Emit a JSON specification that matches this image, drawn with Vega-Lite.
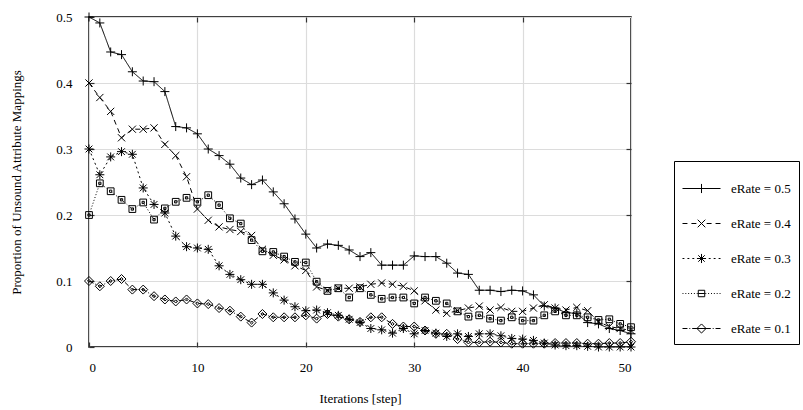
{
  "$schema": "https://vega.github.io/schema/vega-lite/v6.json",
  "width": 542,
  "height": 330,
  "autosize": "none",
  "padding": {"left": 89, "top": 17, "right": 172, "bottom": 63},
  "background": "white",
  "config": {
    "font": "Liberation Serif",
    "view": {"stroke": "black", "strokeWidth": 1.5},
    "axis": {
      "labelFont": "Liberation Serif",
      "titleFont": "Liberation Serif",
      "labelFontSize": 13,
      "titleFontSize": 13,
      "titleFontWeight": "normal",
      "labelColor": "black",
      "titleColor": "black",
      "gridColor": "#dcdcdc",
      "gridWidth": 1.2,
      "domain": false,
      "tickColor": "#333333",
      "tickSize": -5,
      "tickWidth": 1.2
    }
  },
  "data": {
    "values": [
      {"series": "eRate = 0.5", "step": 0, "value": 0.5},
      {"series": "eRate = 0.5", "step": 1, "value": 0.491},
      {"series": "eRate = 0.5", "step": 2, "value": 0.447},
      {"series": "eRate = 0.5", "step": 3, "value": 0.443},
      {"series": "eRate = 0.5", "step": 4, "value": 0.417},
      {"series": "eRate = 0.5", "step": 5, "value": 0.403},
      {"series": "eRate = 0.5", "step": 6, "value": 0.402},
      {"series": "eRate = 0.5", "step": 7, "value": 0.387},
      {"series": "eRate = 0.5", "step": 8, "value": 0.334},
      {"series": "eRate = 0.5", "step": 9, "value": 0.332},
      {"series": "eRate = 0.5", "step": 10, "value": 0.323},
      {"series": "eRate = 0.5", "step": 11, "value": 0.3},
      {"series": "eRate = 0.5", "step": 12, "value": 0.29},
      {"series": "eRate = 0.5", "step": 13, "value": 0.277},
      {"series": "eRate = 0.5", "step": 14, "value": 0.256},
      {"series": "eRate = 0.5", "step": 15, "value": 0.246},
      {"series": "eRate = 0.5", "step": 16, "value": 0.253},
      {"series": "eRate = 0.5", "step": 17, "value": 0.235},
      {"series": "eRate = 0.5", "step": 18, "value": 0.217},
      {"series": "eRate = 0.5", "step": 19, "value": 0.194},
      {"series": "eRate = 0.5", "step": 20, "value": 0.171},
      {"series": "eRate = 0.5", "step": 21, "value": 0.15},
      {"series": "eRate = 0.5", "step": 22, "value": 0.156},
      {"series": "eRate = 0.5", "step": 23, "value": 0.154},
      {"series": "eRate = 0.5", "step": 24, "value": 0.147},
      {"series": "eRate = 0.5", "step": 25, "value": 0.137},
      {"series": "eRate = 0.5", "step": 26, "value": 0.143},
      {"series": "eRate = 0.5", "step": 27, "value": 0.124},
      {"series": "eRate = 0.5", "step": 28, "value": 0.124},
      {"series": "eRate = 0.5", "step": 29, "value": 0.124},
      {"series": "eRate = 0.5", "step": 30, "value": 0.138},
      {"series": "eRate = 0.5", "step": 31, "value": 0.137},
      {"series": "eRate = 0.5", "step": 32, "value": 0.137},
      {"series": "eRate = 0.5", "step": 33, "value": 0.127},
      {"series": "eRate = 0.5", "step": 34, "value": 0.112},
      {"series": "eRate = 0.5", "step": 35, "value": 0.11},
      {"series": "eRate = 0.5", "step": 36, "value": 0.086},
      {"series": "eRate = 0.5", "step": 37, "value": 0.086},
      {"series": "eRate = 0.5", "step": 38, "value": 0.084},
      {"series": "eRate = 0.5", "step": 39, "value": 0.086},
      {"series": "eRate = 0.5", "step": 40, "value": 0.085},
      {"series": "eRate = 0.5", "step": 41, "value": 0.079},
      {"series": "eRate = 0.5", "step": 42, "value": 0.062},
      {"series": "eRate = 0.5", "step": 43, "value": 0.059},
      {"series": "eRate = 0.5", "step": 44, "value": 0.052},
      {"series": "eRate = 0.5", "step": 45, "value": 0.051},
      {"series": "eRate = 0.5", "step": 46, "value": 0.037},
      {"series": "eRate = 0.5", "step": 47, "value": 0.035},
      {"series": "eRate = 0.5", "step": 48, "value": 0.028},
      {"series": "eRate = 0.5", "step": 49, "value": 0.025},
      {"series": "eRate = 0.5", "step": 50, "value": 0.02},

      {"series": "eRate = 0.4", "step": 0, "value": 0.4},
      {"series": "eRate = 0.4", "step": 1, "value": 0.378},
      {"series": "eRate = 0.4", "step": 2, "value": 0.357},
      {"series": "eRate = 0.4", "step": 3, "value": 0.317},
      {"series": "eRate = 0.4", "step": 4, "value": 0.33},
      {"series": "eRate = 0.4", "step": 5, "value": 0.33},
      {"series": "eRate = 0.4", "step": 6, "value": 0.332},
      {"series": "eRate = 0.4", "step": 7, "value": 0.307},
      {"series": "eRate = 0.4", "step": 8, "value": 0.29},
      {"series": "eRate = 0.4", "step": 9, "value": 0.258},
      {"series": "eRate = 0.4", "step": 10, "value": 0.209},
      {"series": "eRate = 0.4", "step": 11, "value": 0.192},
      {"series": "eRate = 0.4", "step": 12, "value": 0.182},
      {"series": "eRate = 0.4", "step": 13, "value": 0.178},
      {"series": "eRate = 0.4", "step": 14, "value": 0.175},
      {"series": "eRate = 0.4", "step": 15, "value": 0.169},
      {"series": "eRate = 0.4", "step": 16, "value": 0.148},
      {"series": "eRate = 0.4", "step": 17, "value": 0.139},
      {"series": "eRate = 0.4", "step": 18, "value": 0.132},
      {"series": "eRate = 0.4", "step": 19, "value": 0.123},
      {"series": "eRate = 0.4", "step": 20, "value": 0.116},
      {"series": "eRate = 0.4", "step": 21, "value": 0.091},
      {"series": "eRate = 0.4", "step": 22, "value": 0.086},
      {"series": "eRate = 0.4", "step": 23, "value": 0.089},
      {"series": "eRate = 0.4", "step": 24, "value": 0.089},
      {"series": "eRate = 0.4", "step": 25, "value": 0.091},
      {"series": "eRate = 0.4", "step": 26, "value": 0.095},
      {"series": "eRate = 0.4", "step": 27, "value": 0.097},
      {"series": "eRate = 0.4", "step": 28, "value": 0.095},
      {"series": "eRate = 0.4", "step": 29, "value": 0.092},
      {"series": "eRate = 0.4", "step": 30, "value": 0.085},
      {"series": "eRate = 0.4", "step": 31, "value": 0.07},
      {"series": "eRate = 0.4", "step": 32, "value": 0.056},
      {"series": "eRate = 0.4", "step": 33, "value": 0.051},
      {"series": "eRate = 0.4", "step": 34, "value": 0.055},
      {"series": "eRate = 0.4", "step": 35, "value": 0.059},
      {"series": "eRate = 0.4", "step": 36, "value": 0.062},
      {"series": "eRate = 0.4", "step": 37, "value": 0.056},
      {"series": "eRate = 0.4", "step": 38, "value": 0.06},
      {"series": "eRate = 0.4", "step": 39, "value": 0.054},
      {"series": "eRate = 0.4", "step": 40, "value": 0.054},
      {"series": "eRate = 0.4", "step": 41, "value": 0.059},
      {"series": "eRate = 0.4", "step": 42, "value": 0.064},
      {"series": "eRate = 0.4", "step": 43, "value": 0.059},
      {"series": "eRate = 0.4", "step": 44, "value": 0.056},
      {"series": "eRate = 0.4", "step": 45, "value": 0.06},
      {"series": "eRate = 0.4", "step": 46, "value": 0.055},
      {"series": "eRate = 0.4", "step": 47, "value": 0.038},
      {"series": "eRate = 0.4", "step": 48, "value": 0.031},
      {"series": "eRate = 0.4", "step": 49, "value": 0.028},
      {"series": "eRate = 0.4", "step": 50, "value": 0.025},

      {"series": "eRate = 0.3", "step": 0, "value": 0.3},
      {"series": "eRate = 0.3", "step": 1, "value": 0.261},
      {"series": "eRate = 0.3", "step": 2, "value": 0.288},
      {"series": "eRate = 0.3", "step": 3, "value": 0.296},
      {"series": "eRate = 0.3", "step": 4, "value": 0.292},
      {"series": "eRate = 0.3", "step": 5, "value": 0.241},
      {"series": "eRate = 0.3", "step": 6, "value": 0.216},
      {"series": "eRate = 0.3", "step": 7, "value": 0.203},
      {"series": "eRate = 0.3", "step": 8, "value": 0.168},
      {"series": "eRate = 0.3", "step": 9, "value": 0.152},
      {"series": "eRate = 0.3", "step": 10, "value": 0.15},
      {"series": "eRate = 0.3", "step": 11, "value": 0.148},
      {"series": "eRate = 0.3", "step": 12, "value": 0.123},
      {"series": "eRate = 0.3", "step": 13, "value": 0.11},
      {"series": "eRate = 0.3", "step": 14, "value": 0.102},
      {"series": "eRate = 0.3", "step": 15, "value": 0.095},
      {"series": "eRate = 0.3", "step": 16, "value": 0.095},
      {"series": "eRate = 0.3", "step": 17, "value": 0.082},
      {"series": "eRate = 0.3", "step": 18, "value": 0.071},
      {"series": "eRate = 0.3", "step": 19, "value": 0.061},
      {"series": "eRate = 0.3", "step": 20, "value": 0.055},
      {"series": "eRate = 0.3", "step": 21, "value": 0.056},
      {"series": "eRate = 0.3", "step": 22, "value": 0.052},
      {"series": "eRate = 0.3", "step": 23, "value": 0.048},
      {"series": "eRate = 0.3", "step": 24, "value": 0.042},
      {"series": "eRate = 0.3", "step": 25, "value": 0.037},
      {"series": "eRate = 0.3", "step": 26, "value": 0.028},
      {"series": "eRate = 0.3", "step": 27, "value": 0.026},
      {"series": "eRate = 0.3", "step": 28, "value": 0.021},
      {"series": "eRate = 0.3", "step": 29, "value": 0.028},
      {"series": "eRate = 0.3", "step": 30, "value": 0.02},
      {"series": "eRate = 0.3", "step": 31, "value": 0.025},
      {"series": "eRate = 0.3", "step": 32, "value": 0.021},
      {"series": "eRate = 0.3", "step": 33, "value": 0.016},
      {"series": "eRate = 0.3", "step": 34, "value": 0.02},
      {"series": "eRate = 0.3", "step": 35, "value": 0.016},
      {"series": "eRate = 0.3", "step": 36, "value": 0.02},
      {"series": "eRate = 0.3", "step": 37, "value": 0.02},
      {"series": "eRate = 0.3", "step": 38, "value": 0.017},
      {"series": "eRate = 0.3", "step": 39, "value": 0.013},
      {"series": "eRate = 0.3", "step": 40, "value": 0.012},
      {"series": "eRate = 0.3", "step": 41, "value": 0.01},
      {"series": "eRate = 0.3", "step": 42, "value": 0.006},
      {"series": "eRate = 0.3", "step": 43, "value": 0.003},
      {"series": "eRate = 0.3", "step": 44, "value": 0.002},
      {"series": "eRate = 0.3", "step": 45, "value": 0.002},
      {"series": "eRate = 0.3", "step": 46, "value": 0.001},
      {"series": "eRate = 0.3", "step": 47, "value": 0.0},
      {"series": "eRate = 0.3", "step": 48, "value": 0.0},
      {"series": "eRate = 0.3", "step": 49, "value": 0.0},
      {"series": "eRate = 0.3", "step": 50, "value": 0.0},

      {"series": "eRate = 0.2", "step": 0, "value": 0.2},
      {"series": "eRate = 0.2", "step": 1, "value": 0.248},
      {"series": "eRate = 0.2", "step": 2, "value": 0.236},
      {"series": "eRate = 0.2", "step": 3, "value": 0.223},
      {"series": "eRate = 0.2", "step": 4, "value": 0.209},
      {"series": "eRate = 0.2", "step": 5, "value": 0.219},
      {"series": "eRate = 0.2", "step": 6, "value": 0.193},
      {"series": "eRate = 0.2", "step": 7, "value": 0.21},
      {"series": "eRate = 0.2", "step": 8, "value": 0.22},
      {"series": "eRate = 0.2", "step": 9, "value": 0.226},
      {"series": "eRate = 0.2", "step": 10, "value": 0.22},
      {"series": "eRate = 0.2", "step": 11, "value": 0.23},
      {"series": "eRate = 0.2", "step": 12, "value": 0.215},
      {"series": "eRate = 0.2", "step": 13, "value": 0.195},
      {"series": "eRate = 0.2", "step": 14, "value": 0.187},
      {"series": "eRate = 0.2", "step": 15, "value": 0.162},
      {"series": "eRate = 0.2", "step": 16, "value": 0.145},
      {"series": "eRate = 0.2", "step": 17, "value": 0.144},
      {"series": "eRate = 0.2", "step": 18, "value": 0.137},
      {"series": "eRate = 0.2", "step": 19, "value": 0.129},
      {"series": "eRate = 0.2", "step": 20, "value": 0.128},
      {"series": "eRate = 0.2", "step": 21, "value": 0.099},
      {"series": "eRate = 0.2", "step": 22, "value": 0.085},
      {"series": "eRate = 0.2", "step": 23, "value": 0.089},
      {"series": "eRate = 0.2", "step": 24, "value": 0.075},
      {"series": "eRate = 0.2", "step": 25, "value": 0.089},
      {"series": "eRate = 0.2", "step": 26, "value": 0.079},
      {"series": "eRate = 0.2", "step": 27, "value": 0.073},
      {"series": "eRate = 0.2", "step": 28, "value": 0.075},
      {"series": "eRate = 0.2", "step": 29, "value": 0.075},
      {"series": "eRate = 0.2", "step": 30, "value": 0.066},
      {"series": "eRate = 0.2", "step": 31, "value": 0.075},
      {"series": "eRate = 0.2", "step": 32, "value": 0.07},
      {"series": "eRate = 0.2", "step": 33, "value": 0.066},
      {"series": "eRate = 0.2", "step": 34, "value": 0.054},
      {"series": "eRate = 0.2", "step": 35, "value": 0.046},
      {"series": "eRate = 0.2", "step": 36, "value": 0.048},
      {"series": "eRate = 0.2", "step": 37, "value": 0.043},
      {"series": "eRate = 0.2", "step": 38, "value": 0.04},
      {"series": "eRate = 0.2", "step": 39, "value": 0.045},
      {"series": "eRate = 0.2", "step": 40, "value": 0.04},
      {"series": "eRate = 0.2", "step": 41, "value": 0.04},
      {"series": "eRate = 0.2", "step": 42, "value": 0.048},
      {"series": "eRate = 0.2", "step": 43, "value": 0.054},
      {"series": "eRate = 0.2", "step": 44, "value": 0.048},
      {"series": "eRate = 0.2", "step": 45, "value": 0.048},
      {"series": "eRate = 0.2", "step": 46, "value": 0.045},
      {"series": "eRate = 0.2", "step": 47, "value": 0.041},
      {"series": "eRate = 0.2", "step": 48, "value": 0.042},
      {"series": "eRate = 0.2", "step": 49, "value": 0.035},
      {"series": "eRate = 0.2", "step": 50, "value": 0.03},

      {"series": "eRate = 0.1", "step": 0, "value": 0.1},
      {"series": "eRate = 0.1", "step": 1, "value": 0.092},
      {"series": "eRate = 0.1", "step": 2, "value": 0.1},
      {"series": "eRate = 0.1", "step": 3, "value": 0.103},
      {"series": "eRate = 0.1", "step": 4, "value": 0.087},
      {"series": "eRate = 0.1", "step": 5, "value": 0.087},
      {"series": "eRate = 0.1", "step": 6, "value": 0.077},
      {"series": "eRate = 0.1", "step": 7, "value": 0.072},
      {"series": "eRate = 0.1", "step": 8, "value": 0.069},
      {"series": "eRate = 0.1", "step": 9, "value": 0.072},
      {"series": "eRate = 0.1", "step": 10, "value": 0.066},
      {"series": "eRate = 0.1", "step": 11, "value": 0.065},
      {"series": "eRate = 0.1", "step": 12, "value": 0.059},
      {"series": "eRate = 0.1", "step": 13, "value": 0.055},
      {"series": "eRate = 0.1", "step": 14, "value": 0.046},
      {"series": "eRate = 0.1", "step": 15, "value": 0.037},
      {"series": "eRate = 0.1", "step": 16, "value": 0.05},
      {"series": "eRate = 0.1", "step": 17, "value": 0.045},
      {"series": "eRate = 0.1", "step": 18, "value": 0.045},
      {"series": "eRate = 0.1", "step": 19, "value": 0.045},
      {"series": "eRate = 0.1", "step": 20, "value": 0.048},
      {"series": "eRate = 0.1", "step": 21, "value": 0.043},
      {"series": "eRate = 0.1", "step": 22, "value": 0.05},
      {"series": "eRate = 0.1", "step": 23, "value": 0.046},
      {"series": "eRate = 0.1", "step": 24, "value": 0.042},
      {"series": "eRate = 0.1", "step": 25, "value": 0.038},
      {"series": "eRate = 0.1", "step": 26, "value": 0.045},
      {"series": "eRate = 0.1", "step": 27, "value": 0.045},
      {"series": "eRate = 0.1", "step": 28, "value": 0.035},
      {"series": "eRate = 0.1", "step": 29, "value": 0.031},
      {"series": "eRate = 0.1", "step": 30, "value": 0.031},
      {"series": "eRate = 0.1", "step": 31, "value": 0.025},
      {"series": "eRate = 0.1", "step": 32, "value": 0.02},
      {"series": "eRate = 0.1", "step": 33, "value": 0.02},
      {"series": "eRate = 0.1", "step": 34, "value": 0.012},
      {"series": "eRate = 0.1", "step": 35, "value": 0.007},
      {"series": "eRate = 0.1", "step": 36, "value": 0.007},
      {"series": "eRate = 0.1", "step": 37, "value": 0.008},
      {"series": "eRate = 0.1", "step": 38, "value": 0.007},
      {"series": "eRate = 0.1", "step": 39, "value": 0.005},
      {"series": "eRate = 0.1", "step": 40, "value": 0.005},
      {"series": "eRate = 0.1", "step": 41, "value": 0.005},
      {"series": "eRate = 0.1", "step": 42, "value": 0.005},
      {"series": "eRate = 0.1", "step": 43, "value": 0.006},
      {"series": "eRate = 0.1", "step": 44, "value": 0.006},
      {"series": "eRate = 0.1", "step": 45, "value": 0.006},
      {"series": "eRate = 0.1", "step": 46, "value": 0.005},
      {"series": "eRate = 0.1", "step": 47, "value": 0.005},
      {"series": "eRate = 0.1", "step": 48, "value": 0.006},
      {"series": "eRate = 0.1", "step": 49, "value": 0.006},
      {"series": "eRate = 0.1", "step": 50, "value": 0.008}
    ]
  },
  "layer": [
    {
      "mark": {"type": "line", "color": "black", "strokeWidth": 1},
      "encoding": {
        "x": {
          "field": "step",
          "type": "quantitative",
          "scale": {"domain": [0, 50], "nice": false},
          "axis": {
            "orient": "bottom",
            "values": [0, 10, 20, 30, 40, 50],
            "title": "Iterations [step]",
            "grid": true,
            "labelPadding": 19,
            "titlePadding": 18
          }
        },
        "y": {
          "field": "value",
          "type": "quantitative",
          "scale": {"domain": [0, 0.5], "nice": false},
          "axis": {
            "orient": "left",
            "values": [0, 0.1, 0.2, 0.3, 0.4, 0.5],
            "format": "~g",
            "title": "Proportion of Unsound Attribute Mappings",
            "grid": true,
            "labelPadding": 22,
            "titlePadding": 32
          }
        },
        "strokeDash": {
          "field": "series",
          "type": "nominal",
          "scale": {
            "domain": ["eRate = 0.5", "eRate = 0.4", "eRate = 0.3", "eRate = 0.2", "eRate = 0.1"],
            "range": [[1, 0], [5, 4], [2, 3], [1, 2], [5, 2, 1, 2]]
          },
          "legend": null
        }
      }
    },
    {
      "mark": {"type": "point", "filled": false, "color": "black", "strokeWidth": 1, "size": 81, "opacity": 1},
      "encoding": {
        "x": {"field": "step", "type": "quantitative", "axis": null},
        "y": {"field": "value", "type": "quantitative", "axis": null},
        "shape": {
          "field": "series",
          "type": "nominal",
          "scale": {
            "domain": ["eRate = 0.5", "eRate = 0.4", "eRate = 0.3", "eRate = 0.2", "eRate = 0.1"],
            "range": [
              "M-1,0H1M0,-1V1",
              "M-0.8,-0.8L0.8,0.8M-0.8,0.8L0.8,-0.8",
              "M-1,0H1M0,-1V1M-0.75,-0.75L0.75,0.75M-0.75,0.75L0.75,-0.75",
              "M-0.75,-0.75H0.75V0.75H-0.75ZM-0.25,-0.25H0.25V0.25H-0.25Z",
              "M0,-1L1,0L0,1L-1,0ZM0,-0.35L0.35,0L0,0.35L-0.35,0Z"
            ]
          },
          "legend": null
        }
      }
    },
    {
      "mark": {"type": "point", "filled": false, "color": "black", "strokeWidth": 1, "size": 1444, "opacity": 0},
      "encoding": {
        "x": {
          "field": "step",
          "type": "quantitative",
          "axis": {"orient": "top", "values": [10, 20, 30, 40], "labels": false, "title": null, "grid": false}
        },
        "y": {
          "field": "value",
          "type": "quantitative",
          "axis": {"orient": "right", "values": [0.1, 0.2, 0.3, 0.4], "labels": false, "title": null, "grid": false}
        },
        "shape": {
          "field": "series",
          "type": "nominal",
          "scale": {
            "domain": ["eRate = 0.5", "eRate = 0.4", "eRate = 0.3", "eRate = 0.2", "eRate = 0.1"],
            "range": [
              "M-1,0H1M0,-0.24V0.24",
              "M-1,0H-0.74M-0.53,0H-0.27M0.27,0H0.53M0.74,0H1M-0.2,-0.2L0.2,0.2M-0.2,0.2L0.2,-0.2",
              "M-1,0H-0.9M-0.74,0H-0.64M-0.48,0H-0.38M0.38,0H0.48M0.64,0H0.74M0.9,0H1M-0.24,0H0.24M0,-0.24V0.24M-0.17,-0.17L0.17,0.17M-0.17,0.17L0.17,-0.17",
              "M-1,0H-0.95M-0.85,0H-0.8M-0.7,0H-0.65M-0.55,0H-0.5M-0.4,0H-0.35M-0.25,0H-0.2M0.2,0H0.25M0.35,0H0.4M0.5,0H0.55M0.65,0H0.7M0.8,0H0.85M0.95,0H1M-0.17,-0.17H0.17V0.17H-0.17ZM-0.17,0H0.17",
              "M-1,0H-0.74M-0.64,0H-0.59M-0.49,0H-0.24M0.24,0H0.49M0.59,0H0.64M0.74,0H1M0,-0.24L0.24,0L0,0.24L-0.24,0ZM-0.24,0H0.24"
            ]
          },
          "legend": {
            "orient": "none",
            "legendX": 585,
            "legendY": 144,
            "title": null,
            "symbolOpacity": 1,
            "symbolStrokeColor": "black",
            "symbolFillColor": "transparent",
            "symbolSize": 1444,
            "symbolStrokeWidth": 1,
            "strokeColor": "black",
            "fillColor": "white",
            "padding": 8,
            "rowPadding": 8,
            "labelFont": "Liberation Serif",
            "labelFontSize": 13,
            "labelColor": "black",
            "labelOffset": 10
          }
        }
      }
    }
  ],
  "resolve": {
    "scale": {"shape": "independent"},
    "axis": {"x": "independent", "y": "independent"}
  }
}
